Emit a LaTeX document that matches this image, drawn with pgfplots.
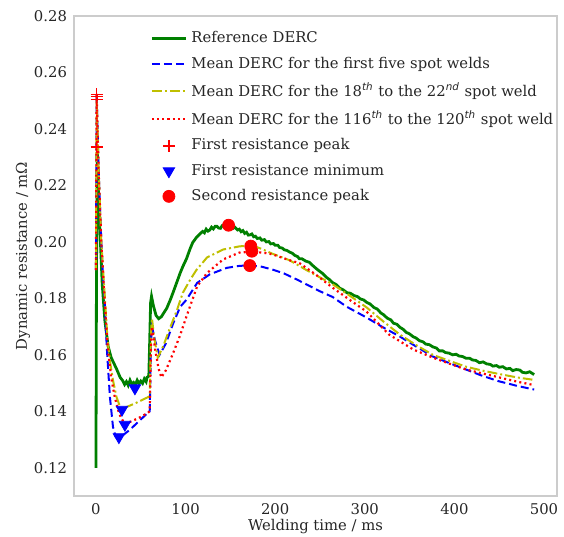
\documentclass[border=0pt]{standalone}
\usepackage{pgfplots}
\pgfplotsset{compat=1.18}
\usepackage{fontspec}
\setmainfont{DejaVu Serif}
\setsansfont{DejaVu Sans}

\definecolor{mplgreen}{HTML}{008000}
\definecolor{mplyellow}{HTML}{BFBF00}
\definecolor{framegray}{HTML}{CCCCCC}
\definecolor{txt}{HTML}{262626}

\newcommand{\ordsup}[1]{\textsuperscript{\sffamily\itshape #1}}

\begin{document}
\begin{tikzpicture}
\begin{axis}[
    scale only axis,
    width=241.5pt, height=240pt,
    xmin=-24.5, xmax=514.5,
    ymin=0.11, ymax=0.28,
    xtick={0,100,...,500},
    ytick={0.12,0.14,...,0.28},
    yticklabel style={/pgf/number format/.cd, fixed, fixed zerofill, precision=2},
    /pgf/number format/assume math mode=true,
    major tick length=0pt,
    axis line style={framegray, line width=0.9pt},
    tick label style={font=\fontsize{7.4}{8}\selectfont, text=txt},
    label style={font=\fontsize{7.4}{8}\selectfont, text=txt},
    xlabel={Welding time / ms},
    ylabel={Dynamic resistance / mΩ},
    xlabel style={yshift=4.5pt},
    ylabel style={yshift=-5pt},
    legend style={draw=none, fill=none, at={(0.145,0.985)}, anchor=north west,
        font=\fontsize{7.4}{9}\selectfont, text=txt, row sep=1.6pt,
        /tikz/every even column/.append style={column sep=3pt}},
    legend cell align=left,
]
% Reference DERC
\addplot[mplgreen, line width=1.4pt] coordinates {
(0,0.12)(0.3,0.155)(0.6,0.19)(1.5,0.2335)(3,0.215)(5,0.200)(7,0.185)(10,0.172)
(13.6,0.163)(17,0.159)(20,0.157)(23,0.155)(27,0.152)(30,0.1508)(32,0.1495)(34,0.1505)
(36,0.1492)(38,0.151)(40,0.1496)(42,0.1502)(44,0.1494)(46,0.151)(48,0.1498)(50,0.1507)
(52,0.1499)(54,0.1515)(56,0.1505)(57,0.152)(59,0.1525)(60,0.165)(61,0.1785)(62,0.1807)
(64,0.1775)(67,0.174)(70,0.1728)(73,0.1735)(76,0.175)(79,0.1765)(83,0.1795)(86,0.182)
(90,0.1855)(94,0.189)(97,0.1913)(101,0.194)(105,0.1975)(108,0.1998)(112,0.2015)
(116,0.2028)(119,0.2037)(121,0.2032)(123,0.2045)(125,0.2038)(127,0.2042)(129,0.2052)
(131,0.2046)(133,0.2055)(135,0.2055)(137,0.2049)(139,0.2048)(141,0.2058)(143,0.206)
(147,0.2062)(149,0.2052)(151,0.2055)(153,0.2048)(155,0.2052)(158,0.2042)(160,0.2045)
(162,0.2036)(164,0.2040)(166,0.2030)(168,0.2034)(170,0.2024)(172,0.2025)(174,0.2028)
(176,0.2018)(178,0.2020)(180,0.2012)(183,0.2014)(185,0.2006)(188,0.2008)(190,0.2000)
(193,0.2001)(195,0.1993)(198,0.1994)(200,0.1988)(203,0.1988)(205,0.1980)(208,0.1978)
(210,0.1972)(213,0.1970)(216,0.1964)(219,0.1960)(222,0.1952)(225,0.1948)(227,0.1940)
(230,0.1940)(234,0.1932)(238,0.1928)(242,0.1916)(246,0.1905)(250,0.1895)(253,0.1888)
(257,0.1875)(260,0.1868)(264,0.1856)(268,0.1849)(272,0.1836)(276,0.1830)(280,0.1820)
(284,0.1818)(288,0.1810)(292,0.1806)(295,0.1798)(299,0.1794)(302,0.1786)(306,0.1780)
(310,0.1768)(314,0.1762)(318,0.1748)(321,0.1742)(325,0.1730)(329,0.1724)(332,0.1712)
(336,0.1708)(339,0.1698)(343,0.1690)(346,0.1680)(350,0.1674)(354,0.1664)(357,0.1660)
(361,0.1650)(365,0.1646)(368,0.1638)(372,0.1636)(376,0.1628)(380,0.1624)(383,0.1614)
(387,0.1614)(390,0.1608)(394,0.1606)(398,0.1600)(402,0.1602)(405,0.1596)(409,0.1594)
(413,0.1588)(417,0.1588)(420,0.1582)(424,0.1580)(428,0.1572)(432,0.1575)(436,0.1568)
(440,0.1566)(443,0.1560)(447,0.1562)(450,0.1556)(454,0.1558)(458,0.1550)(462,0.1552)
(465,0.1544)(469,0.1548)(473,0.1546)(476,0.1538)(480,0.1536)(484,0.1540)(489,0.1530)
};
\addlegendentry{Reference DERC}
% first five
\addplot[blue, line width=1pt, dash pattern=on 4pt off 2pt] coordinates {
(0,0.190)(0.8,0.2525)(3,0.225)(6,0.200)(8,0.187)(10,0.178)(12,0.163)(15.6,0.145)
(19,0.1345)(22,0.131)(25.6,0.1306)(30,0.1315)(38,0.1335)(48,0.1365)(58,0.1395)(60,0.140)
(61.5,0.165)(62.5,0.170)(66,0.165)(71,0.160)(78,0.164)(86,0.171)(94,0.177)(101,0.1795)
(113,0.1855)(127,0.1885)(146,0.1908)(160,0.1915)(172,0.1917)(185,0.1912)(197,0.1902)
(210,0.1888)(224,0.1867)(250,0.1825)(264,0.1805)(280,0.177)(302,0.1732)(320,0.1698)
(339,0.1665)(357,0.163)(376,0.1594)(395,0.157)(413,0.1548)(430,0.1527)(450,0.1506)
(470,0.149)(489,0.1477)
};
\addlegendentry{Mean DERC for the first five spot welds}
% 18th to 22nd
\addplot[mplyellow, line width=1pt, dash pattern=on 5pt off 1.5pt on 1pt off 1.5pt] coordinates {
(0,0.19)(0.8,0.2505)(3,0.225)(6,0.20)(9,0.185)(13,0.165)(16,0.157)(19,0.151)(23,0.145)
(27,0.1415)(29,0.1405)(34,0.1415)(45,0.143)(58,0.145)(60,0.1455)(61.5,0.168)(62.5,0.173)
(65,0.166)(69,0.159)(75,0.163)(82,0.169)(90,0.1755)(97,0.182)(105,0.1865)(112,0.190)
(124,0.1945)(142,0.1973)(160,0.1984)(174,0.1988)(185,0.1975)(197,0.1958)(216,0.1935)
(235,0.190)(264,0.185)(283,0.181)(302,0.1768)(320,0.172)(339,0.1672)(357,0.1635)
(376,0.160)(395,0.1578)(413,0.1558)(430,0.1545)(450,0.1532)(470,0.152)(487,0.1512)
};
\addlegendentry{Mean DERC for the 18\ordsup{th} to the 22\ordsup{nd} spot weld}
% 116th to 120th
\addplot[red, line width=1.1pt, dash pattern=on 1pt off 1.6pt] coordinates {
(0,0.19)(0.8,0.2525)(3,0.225)(6,0.20)(9,0.183)(13,0.163)(17,0.152)(21,0.145)(26,0.139)
(32,0.1355)(40,0.1365)(50,0.138)(58,0.1395)(60,0.140)(61.5,0.165)(62.5,0.170)(66,0.162)
(70,0.155)(73,0.152)(78,0.1545)(86,0.1605)(94,0.167)(101,0.1736)(113,0.1843)(124,0.189)
(142,0.1938)(160,0.1962)(175,0.1966)(190,0.196)(197,0.1956)(216,0.1935)(227,0.1925)
(245,0.1885)(264,0.1838)(283,0.1795)(302,0.1753)(327,0.1672)(354,0.1619)(376,0.159)
(395,0.1568)(413,0.1548)(430,0.1535)(450,0.152)(470,0.1505)(487,0.1494)
};
\addlegendentry{Mean DERC for the 116\ordsup{th} to the 120\ordsup{th} spot weld}
% markers
\addplot[only marks, mark=+, red, mark size=3pt, line width=0.7pt] coordinates {
(0.8,0.2523)(0.8,0.2515)(0.8,0.2505)(0.8,0.2336)
};
\addlegendentry{First resistance peak}
\addplot[only marks, mark=triangle*, blue, mark size=3.3pt, mark options={rotate=180}] coordinates {
(43.5,0.1482)(29,0.1406)(32.3,0.1353)(25.6,0.1309)
};
\addlegendentry{First resistance minimum}
\addplot[only marks, mark=*, red, mark size=3pt] coordinates {
(148,0.2059)(172.8,0.1985)(174,0.1967)(171.7,0.1916)
};
\addlegendentry{Second resistance peak}
\end{axis}
\pgfresetboundingbox
\path ([xshift=-37pt,yshift=-20.5pt]current axis.south west) rectangle ([xshift=3.5pt,yshift=8pt]current axis.north east);
\end{tikzpicture}
\end{document}
